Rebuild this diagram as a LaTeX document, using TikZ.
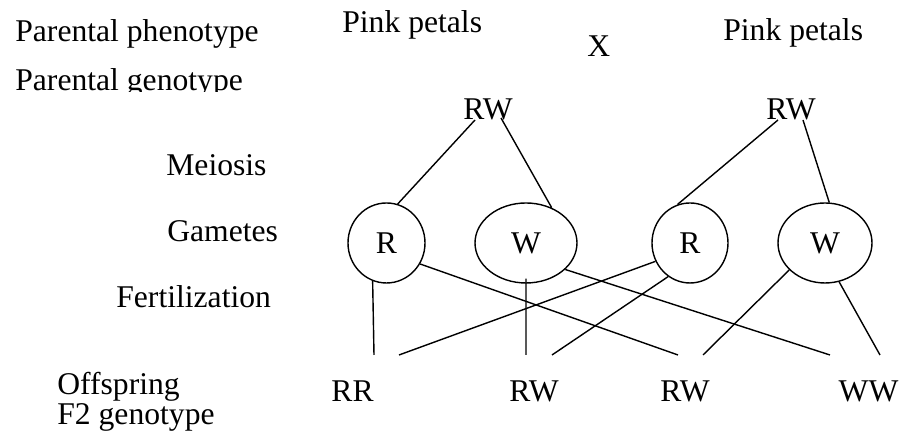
\documentclass[tikz,border=0pt]{standalone}
\usepackage{fontspec}
\setmainfont{Liberation Serif}
\usepackage{tikz}
\usetikzlibrary{calc, shapes}

\begin{document}
\begin{tikzpicture}[font=\fontsize{18}{22}\selectfont,
    lbl/.style={inner sep=0, anchor=base west},
    geno/.style={inner sep=0, anchor=base},
    gamete/.style={draw, ellipse, line width=0.8pt, inner sep=0, minimum height=1.6cm},
    link/.style={line width=0.8pt}]
        \useasboundingbox (0,0) rectangle (18,8.76);
        % row labels on the left
        \node[lbl] (phen) at (0.30, 7.92) {Parental phenotype};
        \begin{scope}
          \clip (0,6.93) rectangle (6,7.6);
          \node[lbl] (gen) at (0.30, 6.94) {Parental genotype};
        \end{scope}
        \node[lbl] (meio) at (3.32, 5.24) {Meiosis};
        \node[lbl] (game) at (3.34, 3.92) {Gametes};
        \node[lbl] (fert) at (2.32, 2.60) {Fertilization};
        \node[lbl] (offs) at (1.14, 0.86) {Offspring};
        \node[lbl] (ftwo) at (1.14, 0.26) {F2 genotype};
        % parents
        \node[lbl] (pinkL) at (6.84, 8.10) {Pink petals};
        \node[lbl] (cross) at (11.74, 7.62) {X};
        \node[lbl] (pinkR) at (14.46, 7.94) {Pink petals};
        \node[geno] (rwL) at (9.76, 6.36) {RW};
        \node[geno] (rwR) at (15.82, 6.36) {RW};
        % gametes
        \node[gamete, minimum width=1.54cm] (r1) at (7.73, 3.90) {R};
        \node[gamete, minimum width=2.04cm] (w1) at (10.52, 3.90) {W};
        \node[gamete, minimum width=1.52cm] (r2) at (13.80, 3.90) {R};
        \node[gamete, minimum width=1.88cm] (w2) at (16.50, 3.90) {W};
        % offspring
        \node[geno] (rr) at (7.05, 0.72) {RR};
        \node[geno] (rwA) at (10.68, 0.72) {RW};
        \node[geno] (rwB) at (13.70, 0.72) {RW};
        \node[geno] (ww) at (17.37, 0.72) {WW};
        % meiosis
        \draw[link] ([xshift=-0.26cm]rwL.base) -- (r1.74);
        \draw[link] ([xshift=0.26cm, yshift=0.04cm]rwL.base) -- (w1.54);
        \draw[link] ([xshift=-0.26cm]rwR.base) -- (r2.108);
        \draw[link] ([xshift=0.24cm]rwR.base) -- (w2.84);
        % fertilization
        \draw[link] (r1.250) -- ([xshift=0.43cm, yshift=0.94cm]rr.base);
        \draw[link] (r1.328) -- ([xshift=-0.14cm, yshift=0.94cm]rwB.base);
        \draw[link] (r2.208) -- ([xshift=0.93cm, yshift=0.94cm]rr.base);
        \draw[link] ([yshift=0.1cm]w1.270) -- ([xshift=-0.16cm, yshift=0.94cm]rwA.base);
        \draw[link] (w1.326) -- ([xshift=-0.77cm, yshift=0.94cm]ww.base);
        \draw[link] (r2.237) -- ([xshift=0.36cm, yshift=0.94cm]rwA.base);
        \draw[link] (w2.217) -- ([xshift=0.36cm, yshift=0.94cm]rwB.base);
        \draw[link] (w2.290) -- ([xshift=0.23cm, yshift=0.94cm]ww.base);
      \end{tikzpicture}
\end{document}
